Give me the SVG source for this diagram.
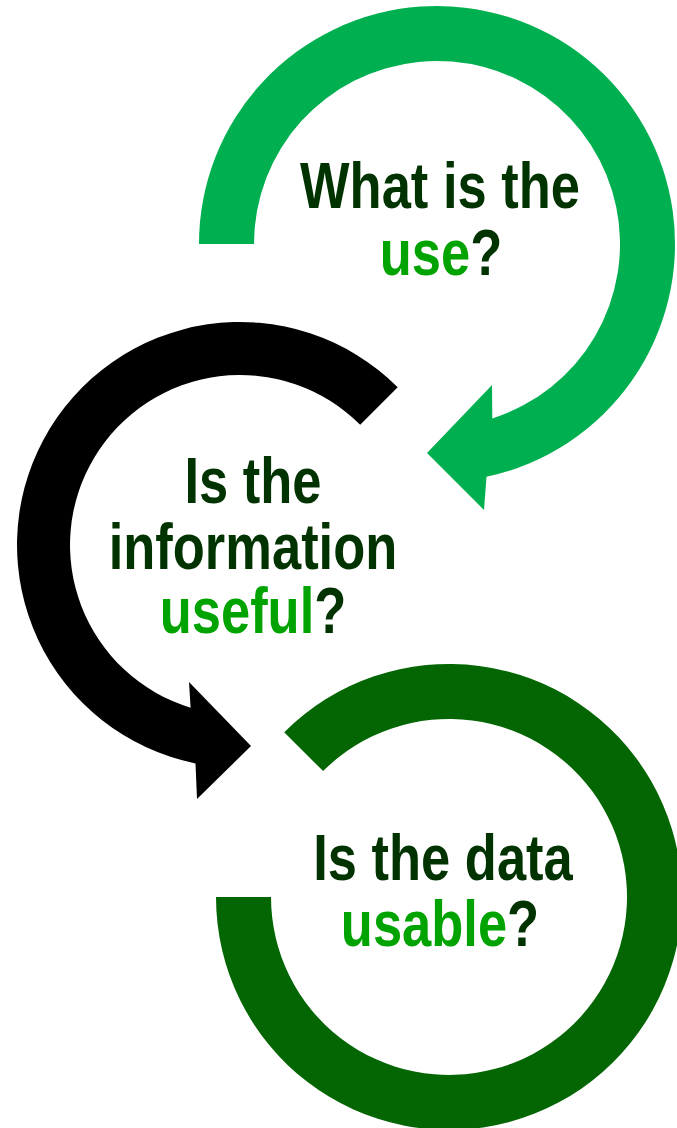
<svg xmlns="http://www.w3.org/2000/svg" width="677" height="1128" viewBox="0 0 677 1128">
  <style>
    .q { font-family: "Liberation Sans", Arial, sans-serif; font-weight: bold; font-size: 64px; fill: #003300; text-anchor: middle; }
    .hl { fill: #00A300; }
  </style>
  <rect width="677" height="1128" fill="#ffffff"/>

  <!-- curved arrows joining the three questions -->
  <g id="connectors">
    <path id="arrow-use" fill="#00B050"
          d="M199,244 A238,238 0 1 1 486.5,476.8 L484,510 L427,453 L492,385 L492.3,418.4 A183,183 0 1 0 254,244 Z"/>
    <path id="arrow-useful" fill="#000000"
          d="M397.7,387.3 A223,223 0 1 0 195.5,763.5 L197,799 L251,746 L189,682 L190.6,707.7 A170,170 0 1 1 360.2,424.8 Z"/>
    <path id="ring-usable" fill="#036603"
          d="M216,897 A233,233 0 1 0 284.2,732.2 L323.1,771.1 A178,178 0 1 1 271,897 Z"/>
  </g>

  <!-- condensed bold type: horizontal squeeze of the sans face -->
  <g id="node-use">
    <text class="q" transform="translate(440,208) scale(0.82,1)">What is the</text>
    <text class="q" transform="translate(441,275) scale(0.82,1)"><tspan class="hl">use</tspan>?</text>
  </g>

  <g id="node-useful">
    <text class="q" transform="translate(253,503) scale(0.82,1)">Is the</text>
    <text class="q" transform="translate(253,569) scale(0.82,1)">information</text>
    <text class="q" transform="translate(253,633) scale(0.82,1)"><tspan class="hl">useful</tspan>?</text>
  </g>

  <g id="node-usable">
    <text class="q" transform="translate(443,880) scale(0.82,1)">Is the data</text>
    <text class="q" transform="translate(440,946) scale(0.82,1)"><tspan class="hl">usable</tspan>?</text>
  </g>
</svg>
